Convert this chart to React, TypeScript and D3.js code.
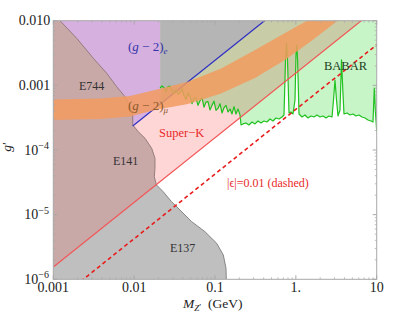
import React from 'react';
import * as d3 from 'd3';

// axis
const xTicks = [0.001, 0.01, 0.1, 1, 10];
const xTickLabels = ['0.001', '0.01', '0.1', '1.', '10'];
const yTicks = [0.01, 0.001, 1e-4, 1e-5, 1e-6];
const yTickLabels = ['0.010', '0.001', '10', '10', '10'];
const yTickExp = ['', '', '\u22124', '\u22125', '\u22126'];

// straight lines (mass in GeV, coupling g')
const superKM = [0.001, 10];
const superKG = [1.55e-6, 1.55e-2];
const dashedM = [0.001, 10];
const dashedG = [4.25e-7, 4.25e-3];
const g2eM = [0.0096, 0.41];
const g2eG = [2.35e-4, 0.01];
const g2eSplitM = 0.021;

// E744 / E141 boundary
const e744M = [0.00121, 0.00195, 0.00313, 0.00458, 0.00608, 0.0077, 0.00889, 0.0096, 0.0096];
const e744G = [0.01, 0.00534, 0.00262, 0.00154, 0.000953, 0.000668, 0.000468, 0.000348, 0.000245];
const e141M = [0.01125, 0.01362, 0.01648, 0.01811, 0.0181, 0.01775, 0.0188];
const e141G = [1.92e-4, 1.52e-4, 1.06e-4, 7.44e-5, 5.21e-5, 3.86e-5, 2.9e-5];
// E137 boundary
const e137M = [0.0188, 0.0229, 0.0291, 0.0369, 0.0515, 0.0752, 0.105, 0.1267, 0.1368, 0.138];
const e137G = [2.9e-5, 2.26e-5, 1.58e-5, 1.18e-5, 7.78e-6, 5.45e-6, 3.6e-6, 2.38e-6, 1.48e-6, 1e-6];

// (g-2)_mu band
const bandUpM = [0.001, 0.00378, 0.00889, 0.0181, 0.0463, 0.121, 0.3125, 0.734, 1.58];
const bandUpG = [6.04e-4, 6.26e-4, 6.84e-4, 8.48e-4, 1.14e-3, 1.835e-3, 3.52e-3, 6.45e-3, 1.1e-2];
const bandLoM = [0.001, 0.00378, 0.00889, 0.0181, 0.0463, 0.121, 0.3125, 0.734, 1.496, 3.14, 4.68];
const bandLoG = [2.91e-4, 3.02e-4, 3.3e-4, 4.16e-4, 5.15e-4, 7.53e-4, 1.3e-3, 2.47e-3, 4.68e-3, 9.55e-3, 1.37e-2];

// BABAR limit
const babarM = [
  0.0209, 0.0221, 0.0234, 0.0248, 0.0262, 0.0278, 0.0294, 0.0311, 0.0329, 0.0349,
  0.0369, 0.0391, 0.0413, 0.0438, 0.0463, 0.0491, 0.0519, 0.055, 0.0582, 0.0616,
  0.0652, 0.0691, 0.0731, 0.0774, 0.0819, 0.0867, 0.0918, 0.0972, 0.1029, 0.1089,
  0.1153, 0.122, 0.1292, 0.1368, 0.1448, 0.1533, 0.1623, 0.1718, 0.1818, 0.1925,
  0.2038, 0.21, 0.222, 0.2417, 0.2633, 0.2868, 0.3125, 0.3402, 0.3706, 0.4036,
  0.4396, 0.4789, 0.5217, 0.5682, 0.6189, 0.6742, 0.7138, 0.7447, 0.7663, 0.7884,
  0.8229, 0.871, 0.9222, 0.9761, 1.004, 1.028, 1.051, 1.094, 1.191, 1.298,
  1.413, 1.539, 1.677, 1.826, 1.989, 2.167, 2.36, 2.57, 2.8, 2.922,
  3.05, 3.184, 3.322, 3.516, 3.67, 3.809, 3.941, 4.293, 4.676, 5.093,
  5.546, 6.041, 6.58, 7.167, 7.806, 8.503, 9.0, 9.339, 9.61, 10,
];
const babarG = [
  9.1e-4, 9.77e-4, 9.2e-4, 8.0e-4, 9.5e-4, 9.77e-4, 8.3e-4, 7.4e-4, 8.6e-4, 7.3e-4,
  7.6e-4, 8.9e-4, 6.9e-4, 6.05e-4, 7.6e-4, 6.8e-4, 5.2e-4, 6.2e-4, 6.4e-4, 4.9e-4,
  5.8e-4, 6.4e-4, 4.6e-4, 5.5e-4, 5.6e-4, 4.16e-4, 4.9e-4, 5.7e-4, 4.1e-4, 4.4e-4,
  5.2e-4, 3.74e-4, 4.5e-4, 4.9e-4, 3.87e-4, 4.3e-4, 3.61e-4, 4.7e-4, 3.6e-4, 4.3e-4,
  3.5e-4, 2.44e-4, 2.53e-4, 2.62e-4, 2.44e-4, 2.71e-4, 2.53e-4, 2.81e-4, 2.62e-4, 2.81e-4,
  2.71e-4, 3.02e-4, 2.81e-4, 3.13e-4, 3.02e-4, 3.24e-4, 3.48e-4, 2.47e-3, 4.52e-3, 2.47e-3,
  3.74e-4, 3.87e-4, 3.61e-4, 5.93e-4, 2.95e-3, 4.21e-3, 2.47e-3, 3.61e-4, 3.24e-4, 3.48e-4,
  3.13e-4, 3.36e-4, 3.24e-4, 3.48e-4, 3.24e-4, 3.36e-4, 3.13e-4, 3.36e-4, 3.24e-4, 5.93e-4,
  1.21e-3, 5.93e-4, 3.36e-4, 4.16e-4, 2.47e-3, 8.48e-4, 3.61e-4, 3.74e-4, 3.48e-4, 3.61e-4,
  3.36e-4, 3.48e-4, 3.24e-4, 3.13e-4, 2.91e-4, 2.81e-4, 2.71e-4, 9.1e-4, 4.16e-4, 1.97e-4,
];

const W = 399;
const H = 316;
const L = 53.3, R = 376.7, T = 20.7, B = 279.3;

const zip = (a: number[], b: number[]) => a.map((v, i) => [v, b[i]] as [number, number]);

export default function App() {
  const x = d3.scaleLog().domain([0.001, 10]).range([L, R]);
  const y = d3.scaleLog().domain([1e-6, 0.01]).range([B, T]);
  const line = d3.line<[number, number]>().x(d => x(d[0])).y(d => y(d[1]));
  const poly = (pts: [number, number][]) => line(pts) + 'Z';

  const lo = 1e-7, hi = 0.05, xl = 0.0005, xr = 20;

  const superK = zip(superKM, superKG);
  const dashed = zip(dashedM, dashedG);
  const g2e = zip(g2eM, g2eG);
  const e744 = zip(e744M, e744G);
  const e141 = zip(e141M, e141G);
  const e137 = zip(e137M, e137G);
  const babar = zip(babarM, babarG);
  const bandUp = zip(bandUpM, bandUpG);
  const bandLo = zip(bandLoM, bandLoG);

  const slope = g2eG[0] / g2eM[0];
  const redAt = (m: number) => superKG[0] * m / superKM[0];

  const pinkPoly = poly([[xl, redAt(xl)], [xr, redAt(xr)], [xr, hi], [xl, hi]]);
  const greenPoly = poly([...babar, [10, hi], [babarM[0], hi]]);
  const e137Poly = poly([...e137, [xl, lo], [xl, redAt(xl)]]);
  const grayTop = poly([[g2eSplitM, g2eSplitM * slope], [g2eM[1] * 1.5, g2eG[1] * 1.5], [g2eSplitM, hi]]);
  const purple = poly([[xl, hi], [g2eSplitM, hi], [g2eSplitM, g2eSplitM * slope], [xl, xl * slope]]);
  const brown = poly([[xl, hi], [e744M[0], hi], ...e744, ...e141, [xl, redAt(xl)]]);
  const band = poly([[xl, bandUpG[0]], ...bandUp, ...bandLo.slice().reverse(), [xl, bandLoG[0]]]);

  const minorX: number[] = [];
  for (let e = -3; e < 1; e++) for (let k = 2; k <= 9; k++) minorX.push(k * Math.pow(10, e));
  const minorY: number[] = [];
  for (let e = -6; e < -2; e++) for (let k = 2; k <= 9; k++) minorY.push(k * Math.pow(10, e));

  const serif = "'Liberation Serif', 'Times New Roman', 'DejaVu Serif', serif";
  const axisCol = '#a8a8a8';

  return (
    <svg width={W} height={H} style={{ position: 'absolute', left: 0, top: 0, fontFamily: serif }}>
      <defs>
        <clipPath id="plot">
          <rect x={L} y={T} width={R - L} height={B - T} />
        </clipPath>
      </defs>
      <rect x={0} y={0} width={W} height={H} fill="#fff" />
      <g clipPath="url(#plot)">
        <path d={pinkPoly} fill="#ffd6d6" />
        <path d={greenPoly} fill="#c8f5c8" style={{ mixBlendMode: 'multiply' }} />
        <path d={e137Poly} fill="#bfbfbf" />
        <path d={grayTop} fill="#b5b5b5" />
        <path d={purple} fill="#d6b1e0" />
        <path d={brown} fill="#c9a8a8" />
        <path d={line([...e744, ...e141])!} fill="none" stroke="#8c7676" strokeWidth={0.9} />
        <path d={line(e137)!} fill="none" stroke="#7c7c7c" strokeWidth={0.9} />
        <path d={line(g2e)!} fill="none" stroke="#2f2fc4" strokeWidth={1.2} />
        <path d={line(babar)!} fill="none" stroke="#1fc21f" strokeWidth={1.2} strokeLinejoin="round" />
        <path d={band} fill="#f29b5e" fillOpacity={0.85} />
        <path d={line(superK)!} fill="none" stroke="#f25555" strokeWidth={1.2} />
        <path d={line(dashed)!} fill="none" stroke="#e81c1c" strokeWidth={1.6} strokeDasharray="4,3" />
      </g>

      {/* frame and ticks */}
      <rect x={L} y={T} width={R - L} height={B - T} fill="none" stroke={axisCol} strokeWidth={1} />
      {xTicks.map(t => (
        <g key={'xt' + t}>
          <line x1={x(t)} x2={x(t)} y1={B} y2={B - 4} stroke={axisCol} />
          <line x1={x(t)} x2={x(t)} y1={T} y2={T + 4} stroke={axisCol} />
        </g>
      ))}
      {minorX.map(t => (
        <g key={'xm' + t}>
          <line x1={x(t)} x2={x(t)} y1={B} y2={B - 2} stroke={axisCol} strokeWidth={0.7} />
          <line x1={x(t)} x2={x(t)} y1={T} y2={T + 2} stroke={axisCol} strokeWidth={0.7} />
        </g>
      ))}
      {yTicks.map(t => (
        <g key={'yt' + t}>
          <line x1={L} x2={L + 4} y1={y(t)} y2={y(t)} stroke={axisCol} />
          <line x1={R} x2={R - 4} y1={y(t)} y2={y(t)} stroke={axisCol} />
        </g>
      ))}
      {minorY.map(t => (
        <g key={'ym' + t}>
          <line x1={L} x2={L + 2} y1={y(t)} y2={y(t)} stroke={axisCol} strokeWidth={0.7} />
          <line x1={R} x2={R - 2} y1={y(t)} y2={y(t)} stroke={axisCol} strokeWidth={0.7} />
        </g>
      ))}

      {/* tick labels */}
      {xTicks.map((t, i) => (
        <text key={'xl' + t} x={x(t)} y={B + 13} fontSize={14} textAnchor="middle" fill="#222">
          {xTickLabels[i]}
        </text>
      ))}
      {yTicks.map((t, i) => (
        <text key={'yl' + t} x={yTickExp[i] ? L - 15 : L - 3} y={y(t) + 4.5} fontSize={14} textAnchor="end" fill="#222">
          {yTickLabels[i]}
        </text>
      ))}
      {yTicks.map((t, i) =>
        yTickExp[i] ? (
          <text key={'ye' + t} x={L - 15} y={y(t) - 1} fontSize={10} textAnchor="start" fill="#222">
            {yTickExp[i]}
          </text>
        ) : null
      )}

      {/* axis titles */}
      <text x={183} y={308} fontSize={13.5} fill="#222">
        <tspan fontStyle="italic">M</tspan>
        <tspan fontStyle="italic" fontSize={9} dy={3}>Z</tspan>
        <tspan fontSize={9} dy={-1}>{'\u2032'}</tspan>
        <tspan dy={-2}>{'\u00a0\u00a0(GeV)'}</tspan>
      </text>
      <text transform="translate(11,147) rotate(-90)" fontSize={13.5} fill="#222" textAnchor="middle">
        <tspan fontStyle="italic">g</tspan>
        <tspan>{'\u2032'}</tspan>
      </text>

      {/* region labels */}
      <text x={128} y={51} fontSize={13} fill="#3434a8">
        <tspan>(</tspan>
        <tspan fontStyle="italic">g</tspan>
        <tspan>{'\u00a0\u2212\u00a02)'}</tspan>
        <tspan fontStyle="italic" fontSize={9} dy={3}>e</tspan>
      </text>
      <text x={128} y={110} fontSize={13} fill="#8c5a2c">
        <tspan>(</tspan>
        <tspan fontStyle="italic">g</tspan>
        <tspan>{'\u00a0\u2212\u00a02)'}</tspan>
        <tspan fontStyle="italic" fontSize={9} dy={3}>{'\u03bc'}</tspan>
      </text>
      <text x={79} y={89.5} fontSize={12} fill="#333">E744</text>
      <text x={113} y={165} fontSize={12} fill="#333">E141</text>
      <text x={170} y={252} fontSize={12} fill="#333">E137</text>
      <text x={159} y={137} fontSize={12.5} fill="#e82a2a">Super{'\u2212'}K</text>
      <text x={324} y={70} fontSize={12.5} fill="#1e3d1e">BABAR</text>
      <text x={227} y={187} fontSize={12} fill="#e82a2a">|{'\u03f5'}|=0.01 (dashed)</text>
    </svg>
  );
}
